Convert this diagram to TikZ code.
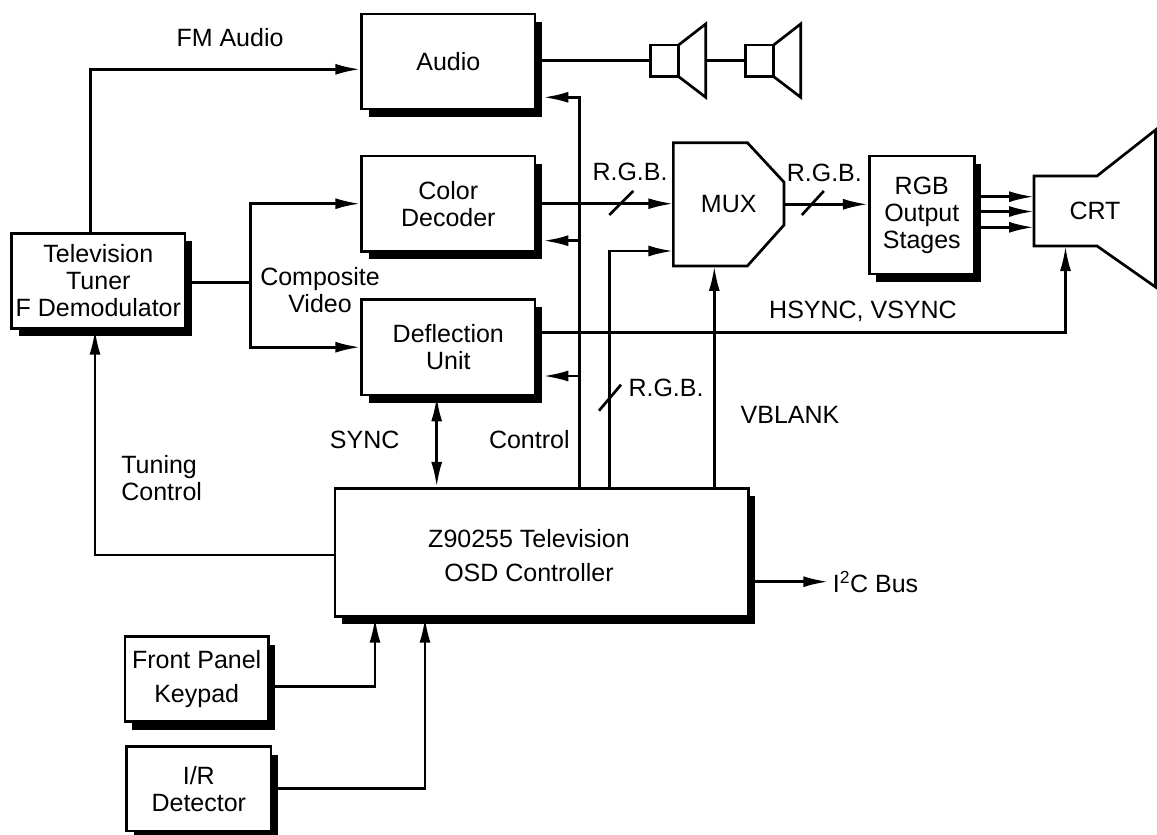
\documentclass[tikz,border=0pt]{standalone}
\usepackage{fontspec}
\setmainfont{Liberation Sans}
\usetikzlibrary{positioning,calc,shadows,arrows.meta}

\begin{document}
\begin{tikzpicture}[x=1pt,y=-1pt,
  line width=2.7pt,
  >={Latex[length=25pt,width=11pt]},
  every node/.style={font=\fontsize{25}{27}\selectfont},
  blk/.style={draw, fill=white, align=center, inner sep=0pt,
    drop shadow={shadow xshift=7pt, shadow yshift=-8pt, fill=black, opacity=1}},
  spk/.style={draw, minimum width=28.4pt, minimum height=31.7pt, inner sep=0pt, outer sep=0pt}]
\useasboundingbox (0,0) rectangle (1157,835);

\node[blk, minimum width=173.3pt, minimum height=95pt] (audio) at (448.3,61.5) {Audio};
\node[blk, minimum width=173.3pt, minimum height=95.5pt] (colordec) at (448.3,203.7) {Color\\Decoder};
\node[blk, minimum width=173.3pt, minimum height=95.7pt] (deflect) at (448.3,347.2) {Deflection\\Unit};
\node[blk, minimum width=173.3pt, minimum height=95pt] (tuner) at (98.3,280.8) {Television\\Tuner\\F Demodulator};
\node[blk, minimum width=105pt, minimum height=118pt] (rgbout) at (921.8,215) {RGB\\Output\\Stages};
\node[blk, minimum width=413.3pt, minimum height=128pt,
  label={[align=center, xshift=-12.7pt, yshift=-3.7pt, font=\fontsize{25}{34}\selectfont]center:Z90255 Television\\OSD Controller}] (z) at (541.7,552.3) {};
\node[blk, minimum width=143.3pt, minimum height=85pt, font=\fontsize{25}{34}\selectfont] (keypad) at (196.7,679.2) {Front Panel\\Keypad};
\node[blk, minimum width=144.3pt, minimum height=84.3pt] (irdet) at (198.8,788.8) {I/R\\Detector};

\node[minimum width=110.7pt, minimum height=123.3pt, inner sep=0pt, outer sep=0pt] (mux) at (728.7,204.3) {MUX};
\draw (mux.north west) -- ($(mux.north east)+(-36.7,0)$) -- ($(mux.north east)+(0,39.6)$)
  -- ($(mux.south east)+(0,-41)$) -- ($(mux.south east)+(-36.7,0)$) -- (mux.south west) -- cycle;

\node[minimum width=63pt, minimum height=70pt, inner sep=0pt, outer sep=0pt,
  label={[xshift=29.5pt]center:CRT}] (crt) at (1065.5,211) {};
\draw (crt.north east) -- (crt.north west) -- (crt.south west) -- (crt.south east)
  -- ++(58.5,41) -- ++(0,-157) -- cycle;

% speakers
\node[spk] (spkA) at (664.5,60.8) {};
\node[spk] (spkB) at (759.5,60.8) {};
\draw (spkA.north east) -- ++(27,-21) -- ++(0,73.3) -- (spkA.south east);
\draw (spkB.north east) -- ++(27,-21) -- ++(0,73.3) -- (spkB.south east);
\draw (audio.east |- spkA.west) -- (spkA.west);
\draw ($(spkA.east)+(27,0)$) -- (spkB.west);

% tuner outputs
\coordinate (fm) at (90.7,69.3);
\draw[->] (tuner.north -| fm) |- (audio.west |- fm);
\node (fmlbl) at (230,38) {FM Audio};
\coordinate (cv) at (250.7,282.7);
\draw (tuner.east |- cv) -- (cv);
\draw[->] (cv) |- (colordec.west);
\draw[->] (cv) |- (deflect.west);
\node[align=center] (cvlbl) at (320,290.5) {Composite\\Video};

% video path
\draw[->] (colordec.east) -- (mux.west |- colordec.east);
\coordinate (slA) at (621.3,203);
\draw ($(slA)+(-12,12)$) -- ++(24,-24);
\node (rgbA) at (630,171.7) {R.G.B.};

\draw[->] (mux.east) -- (rgbout.west |- mux.east);
\coordinate (slB) at (812.8,203);
\draw ($(slB)+(-11,12)$) -- ++(22,-24);
\node (rgbB) at (824.3,173) {R.G.B.};

\foreach \yy in {196.7,211.5,227.3}
  \draw[->] (rgbout.east |- 0,\yy) -- (crt.west |- 0,\yy);

\coordinate (hs) at (1064,332.3);
\draw[->] (deflect.east |- hs) -| (crt.south);
\node (hslbl) at (863,311.7) {HSYNC, VSYNC};

% controller
\coordinate (ctlA) at (579.3,97.3);
\coordinate (ctlB) at (579.3,240.7);
\coordinate (ctlC) at (579.3,376);
\draw[->] (z.north -| ctlA) |- ($(audio.east |- ctlA)+(7,0)$);
\draw[->] (ctlB) -- ($(colordec.east |- ctlB)+(7,0)$);
\draw[->] (ctlC) -- ($(deflect.east |- ctlC)+(7,0)$);
\node (ctllbl) at (529.3,440) {Control};

\coordinate (rgC) at (609.3,251);
\draw[->] (z.north -| rgC) |- (mux.west |- rgC);
\coordinate (slC) at (610,397.7);
\draw ($(slC)+(-11,13)$) -- ++(22,-26);
\node (rgbC) at (666,388.3) {R.G.B.};

\coordinate (vb) at (714.3,0);
\draw[->] (z.north -| vb) -- (mux.south -| vb);
\node (vblbl) at (790,415) {VBLANK};

\coordinate (sy) at (436.7,0);
\draw[<->] (z.north -| sy) -- (deflect.south -| sy);
\node (synclbl) at (364.7,440) {SYNC};

\coordinate (tc) at (95,555);
\draw[->] (z.west |- tc) -| (tuner.south -| tc);
\node[anchor=west, align=left] (tunlbl) at (116.7,478) {Tuning\\Control};

\node[anchor=west] (i2c) at (828.3,581.7) {I\textsuperscript{2}C Bus};
\draw[->] (z.east |- i2c) -- (i2c.west);

% inputs
\coordinate (kp) at (375,686.7);
\draw[->] (keypad.east |- kp) -| (z.south -| kp);
\coordinate (ir) at (425,788.3);
\draw[->] (irdet.east |- ir) -| (z.south -| ir);

\end{tikzpicture}
\end{document}
